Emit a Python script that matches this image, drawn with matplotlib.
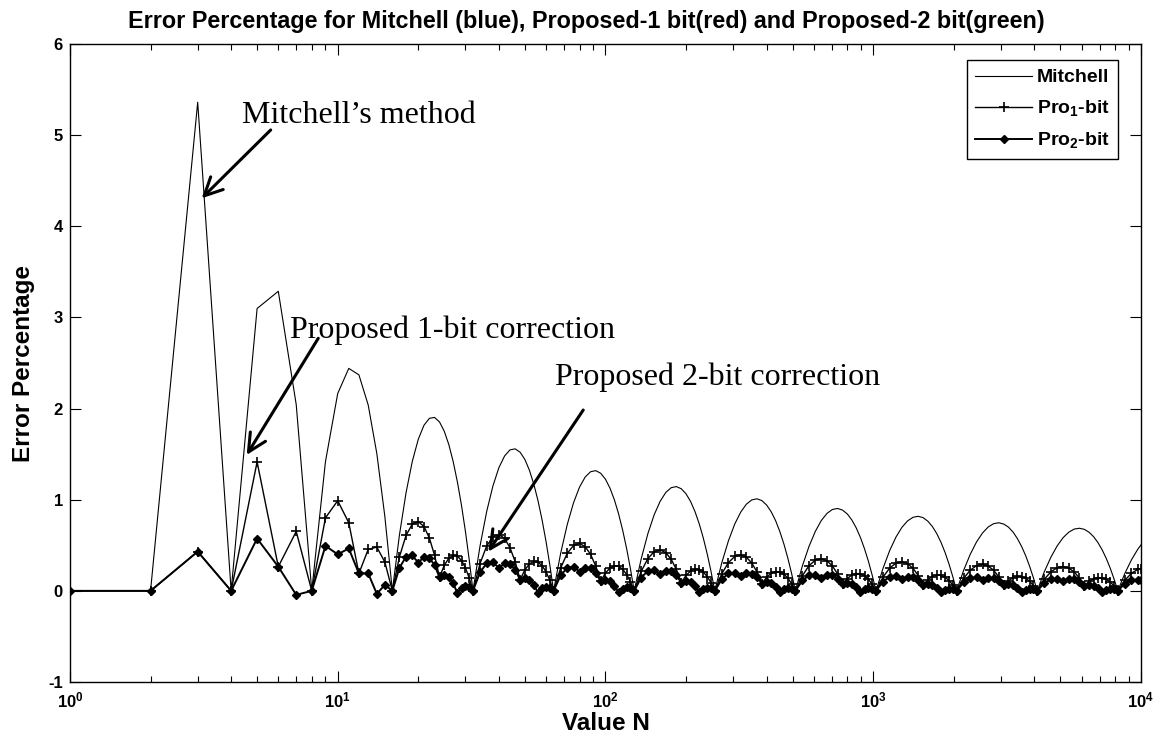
import math
import matplotlib
matplotlib.use("Agg")
import matplotlib.pyplot as plt
from matplotlib.ticker import FixedLocator, FuncFormatter, LogLocator, NullFormatter

# ---------------- data ----------------
N = [1, 2, 3, 4, 5, 6, 7, 8, 9, 10, 11, 12, 13, 14, 15,
     16, 17, 18, 19, 20, 21, 22, 23, 24, 25, 26, 27, 28, 29, 30, 31,
     32, 34, 36, 38, 40, 42, 44, 46, 48, 50, 52, 54, 56, 58, 60, 62,
     64, 68, 72, 76, 80, 84, 88, 92, 96, 100, 104, 108, 112, 116, 120, 124,
     128, 136, 144, 152, 160, 168, 176, 184, 192, 200, 208, 216, 224, 232, 240, 248,
     256, 272, 288, 304, 320, 336, 352, 368, 384, 400, 416, 432, 448, 464, 480, 496,
     512, 544, 576, 608, 640, 672, 704, 736, 768, 800, 832, 864, 896, 928, 960, 992,
     1024, 1088, 1152, 1216, 1280, 1344, 1408, 1472, 1536, 1600, 1664, 1728, 1792, 1856, 1920, 1984,
     2048, 2176, 2304, 2432, 2560, 2688, 2816, 2944, 3072, 3200, 3328, 3456, 3584, 3712, 3840, 3968,
     4096, 4352, 4608, 4864, 5120, 5376, 5632, 5888, 6144, 6400, 6656, 6912, 7168, 7424, 7680, 7936,
     8192, 8704, 9216, 9728, 10000]

mitchell = [0, 0, 5.361, 0, 3.098, 3.287, 2.043, 0, 1.417, 2.165, 2.441, 2.370, 2.039, 1.506, 0.816,
            0, 0.611, 1.077, 1.423, 1.664, 1.817, 1.893, 1.903, 1.853, 1.752, 1.605, 1.417, 1.193, 0.936, 0.650, 0.337,
            0, 0.491, 0.869, 1.152, 1.352, 1.480, 1.547, 1.558, 1.521, 1.442, 1.323, 1.171, 0.988, 0.776, 0.540, 0.280,
            0, 0.410, 0.728, 0.967, 1.138, 1.249, 1.307, 1.319, 1.290, 1.225, 1.126, 0.998, 0.843, 0.663, 0.462, 0.240,
            0, 0.352, 0.627, 0.834, 0.982, 1.080, 1.132, 1.144, 1.120, 1.064, 0.980, 0.869, 0.735, 0.579, 0.403, 0.210,
            0, 0.309, 0.550, 0.733, 0.864, 0.951, 0.998, 1.010, 0.990, 0.941, 0.867, 0.770, 0.651, 0.513, 0.358, 0.187,
            0, 0.275, 0.490, 0.653, 0.772, 0.850, 0.893, 0.904, 0.886, 0.844, 0.778, 0.691, 0.585, 0.461, 0.322, 0.168,
            0, 0.247, 0.442, 0.590, 0.697, 0.768, 0.807, 0.818, 0.803, 0.764, 0.705, 0.627, 0.531, 0.419, 0.292, 0.152,
            0, 0.225, 0.402, 0.537, 0.635, 0.701, 0.737, 0.747, 0.733, 0.699, 0.645, 0.573, 0.486, 0.384, 0.268, 0.140,
            0, 0.207, 0.369, 0.493, 0.584, 0.644, 0.678, 0.687, 0.675, 0.643, 0.594, 0.528, 0.448, 0.354, 0.247, 0.129,
            0, 0.191, 0.341, 0.456, 0.504]

pro1 = [0, 0, 0.431, 0, 1.415, 0.265, 0.652, 0, 0.801, 0.989, 0.747, 0.191, 0.455, 0.480, 0.316,
        0, 0.372, 0.609, 0.733, 0.760, 0.706, 0.579, 0.391, 0.149, 0.280, 0.358, 0.390, 0.381, 0.333, 0.252, 0.140,
        0, 0.299, 0.491, 0.593, 0.618, 0.575, 0.473, 0.321, 0.122, 0.230, 0.296, 0.323, 0.315, 0.276, 0.209, 0.116,
        0, 0.250, 0.412, 0.498, 0.520, 0.485, 0.400, 0.271, 0.104, 0.196, 0.251, 0.275, 0.269, 0.236, 0.179, 0.100,
        0, 0.214, 0.354, 0.430, 0.449, 0.419, 0.346, 0.235, 0.090, 0.170, 0.219, 0.239, 0.234, 0.206, 0.156, 0.087,
        0, 0.188, 0.311, 0.377, 0.395, 0.369, 0.305, 0.208, 0.080, 0.150, 0.194, 0.212, 0.208, 0.183, 0.139, 0.077,
        0, 0.167, 0.277, 0.337, 0.353, 0.330, 0.273, 0.186, 0.071, 0.135, 0.174, 0.190, 0.187, 0.164, 0.125, 0.070,
        0, 0.151, 0.250, 0.304, 0.318, 0.298, 0.247, 0.168, 0.065, 0.122, 0.157, 0.173, 0.169, 0.149, 0.113, 0.063,
        0, 0.137, 0.227, 0.277, 0.290, 0.272, 0.226, 0.154, 0.059, 0.112, 0.144, 0.158, 0.155, 0.137, 0.104, 0.058,
        0, 0.126, 0.209, 0.254, 0.267, 0.250, 0.207, 0.141, 0.054, 0.103, 0.133, 0.146, 0.143, 0.126, 0.096, 0.054,
        0, 0.116, 0.193, 0.235, 0.245]

pro2 = [0, 0, 0.431, 0, 0.574, 0.265, -0.044, 0, 0.493, 0.401, 0.465, 0.191, 0.191, -0.033, 0.066,
        0, 0.252, 0.375, 0.388, 0.309, 0.372, 0.360, 0.283, 0.149, 0.175, 0.151, 0.082, -0.026, 0.032, 0.053, 0.041,
        0, 0.203, 0.302, 0.314, 0.251, 0.303, 0.294, 0.232, 0.122, 0.144, 0.124, 0.068, -0.021, 0.026, 0.044, 0.034,
        0, 0.169, 0.253, 0.264, 0.211, 0.256, 0.249, 0.197, 0.104, 0.122, 0.106, 0.058, -0.018, 0.022, 0.038, 0.029,
        0, 0.146, 0.218, 0.227, 0.182, 0.221, 0.216, 0.170, 0.090, 0.106, 0.092, 0.050, -0.016, 0.020, 0.033, 0.026,
        0, 0.128, 0.191, 0.200, 0.160, 0.195, 0.190, 0.150, 0.080, 0.094, 0.081, 0.045, -0.014, 0.017, 0.029, 0.023,
        0, 0.114, 0.170, 0.178, 0.143, 0.174, 0.170, 0.135, 0.071, 0.084, 0.073, 0.040, -0.013, 0.016, 0.026, 0.021,
        0, 0.102, 0.154, 0.161, 0.129, 0.157, 0.154, 0.122, 0.065, 0.076, 0.066, 0.036, -0.011, 0.014, 0.024, 0.019,
        0, 0.093, 0.140, 0.147, 0.118, 0.143, 0.140, 0.111, 0.059, 0.070, 0.061, 0.033, -0.011, 0.013, 0.022, 0.017,
        0, 0.085, 0.128, 0.135, 0.108, 0.132, 0.129, 0.102, 0.054, 0.064, 0.056, 0.031, -0.010, 0.012, 0.020, 0.016,
        0, 0.079, 0.119, 0.124, 0.115]

series_labels = ["Mitchell", "Pro$_1$-bit", "Pro$_2$-bit"]
y_ticks = [-1, 0, 1, 2, 3, 4, 5, 6]
x_ticks = [1, 10, 100, 1000, 10000]

title = "Error Percentage for Mitchell (blue), Proposed-1 bit(red) and Proposed-2 bit(green)"
annotations = [
    # text, text position (N, value), arrow start, arrow tip
    ("Mitchell\u2019s method", (4.378, 5.133), (5.62, 5.057), (3.104, 4.307)),
    ("Proposed 1-bit correction", (6.633, 2.774), (8.46, 2.771), (4.571, 1.491)),
    ("Proposed 2-bit correction", (64.77, 2.259), (82.6, 1.984), (36.5, 0.430)),
]

# ---------------- style ----------------
plt.rcParams["font.family"] = ["Liberation Sans", "DejaVu Sans"]
plt.rcParams["font.weight"] = "bold"
plt.rcParams["axes.unicode_minus"] = False
plt.rcParams["mathtext.fontset"] = "custom"
plt.rcParams["mathtext.rm"] = "Liberation Sans:bold"
plt.rcParams["mathtext.it"] = "Liberation Sans:bold"
plt.rcParams["mathtext.bf"] = "Liberation Sans:bold"

fig = plt.figure(figsize=(11.58, 7.46), dpi=100)
ax = fig.add_axes([0.0604, 0.0858, 0.9249, 0.8552])

ax.plot(N, mitchell, color="black", lw=0.8, label=series_labels[0])
ax.plot(N, pro1, color="black", lw=1.0, marker="+", ms=6.5, mew=1.2,
        label=series_labels[1])
ax.plot(N, pro2, color="black", lw=1.4, marker="D", ms=4.0,
        label=series_labels[2])

ax.set_xscale("log")
ax.set_xlim(x_ticks[0], x_ticks[-1])
ax.set_ylim(y_ticks[0], y_ticks[-1])
ax.xaxis.set_major_locator(FixedLocator(x_ticks))
ax.xaxis.set_major_formatter(FuncFormatter(
    lambda v, p: r"$\mathbf{10^{%d}}$" % round(math.log10(v))))
ax.xaxis.set_minor_locator(LogLocator(base=10, subs=range(2, 10), numticks=50))
ax.xaxis.set_minor_formatter(NullFormatter())
ax.set_yticks(y_ticks)

ax.tick_params(which="both", direction="in", top=True, right=True, width=0.8)
ax.tick_params(which="major", length=8)
ax.tick_params(which="minor", length=4)
ax.tick_params(axis="x", labelsize=12, pad=6)
ax.tick_params(axis="y", labelsize=12, pad=5)
for s in ax.spines.values():
    s.set_linewidth(1.0)

ax.set_xlabel("Value N", fontsize=17.5, fontweight="bold", labelpad=1)
ax.set_ylabel("Error Percentage", fontsize=17.5, fontweight="bold")
ax.yaxis.set_label_coords(-0.0327, 0.5)

fig.text(0.506, 0.9625, title, ha="center", va="baseline",
         fontsize=16.8, fontweight="bold")

leg = ax.legend(loc="upper right", bbox_to_anchor=(0.9788, 0.9749),
                fontsize=14, frameon=True, fancybox=False, edgecolor="black",
                framealpha=1, handlelength=2.9, handletextpad=0.25,
                labelspacing=0.62, borderpad=0.45, borderaxespad=0, numpoints=1)
leg.get_frame().set_linewidth(1.0)

for text, tpos, start, tip in annotations:
    ax.text(tpos[0], tpos[1], text, family="Liberation Serif", fontsize=23,
            fontweight="normal", ha="left", va="baseline")
    ax.annotate("", xy=tip, xytext=start,
                arrowprops=dict(arrowstyle="->,head_length=0.65,head_width=0.32",
                                lw=2.2, color="black", shrinkA=0, shrinkB=0,
                                mutation_scale=20))

fig.savefig("out.png", dpi=100)
